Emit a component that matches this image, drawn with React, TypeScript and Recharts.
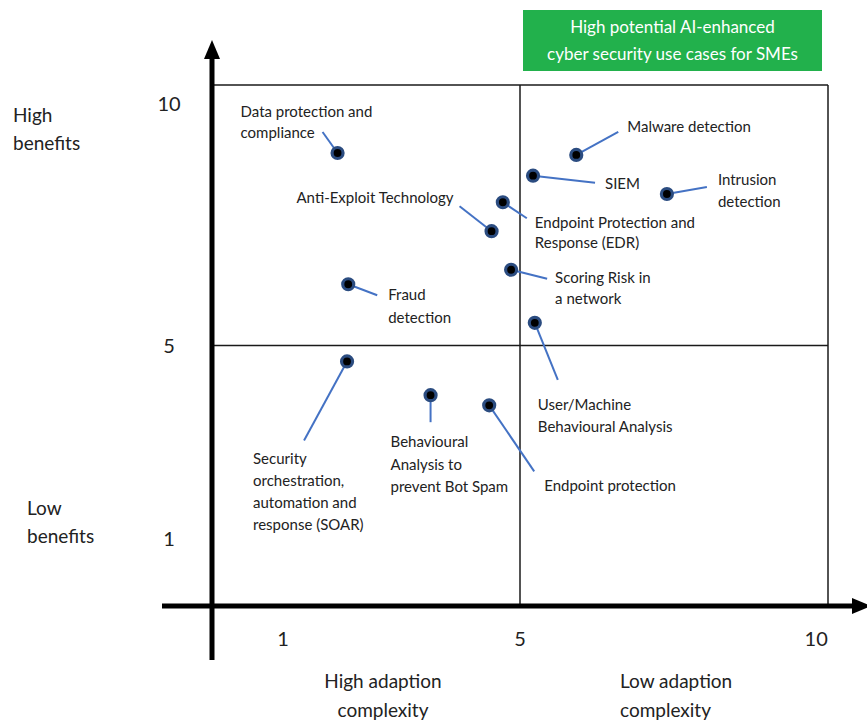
import React from 'react';
import { ScatterChart, Scatter, XAxis, YAxis, ReferenceLine } from 'recharts';

// ---------- data ----------
const useCases = [
  'Data protection and compliance',
  'Malware detection',
  'SIEM',
  'Intrusion detection',
  'Endpoint Protection and Response (EDR)',
  'Anti-Exploit Technology',
  'Scoring Risk in a network',
  'Fraud detection',
  'User/Machine Behavioural Analysis',
  'Security orchestration, automation and response (SOAR)',
  'Behavioural Analysis to prevent Bot Spam',
  'Endpoint protection',
];
const adaptionComplexity = [1.92, 5.95, 5.22, 7.48, 4.71, 4.52, 4.85, 2.1, 5.25, 2.08, 3.49, 4.48];
const benefits = [8.99, 8.95, 8.52, 8.14, 7.97, 7.37, 6.57, 6.27, 5.47, 4.67, 3.97, 3.76];
const labelLines = [
  ['Data protection and', 'compliance'],
  ['Malware detection'],
  ['SIEM'],
  ['Intrusion', 'detection'],
  ['Endpoint Protection and', 'Response (EDR)'],
  ['Anti-Exploit Technology'],
  ['Scoring Risk in', 'a network'],
  ['Fraud', 'detection'],
  ['User/Machine', 'Behavioural Analysis'],
  ['Security', 'orchestration,', 'automation and', 'response (SOAR)'],
  ['Behavioural', 'Analysis to', 'prevent Bot Spam'],
  ['Endpoint protection'],
];
const xTicks = [1, 5, 10];
const yTicks = [1, 5, 10];
const xDomain = [-0.2, 10.2];
const yDomain = [-0.4, 10.4];
const midValue = 5;
const titleLines = ['High potential AI-enhanced', 'cyber security use cases for SMEs'];

// ---------- annotation layout (pixel offsets relative to each point) ----------
const labelLayout = [
  { anchor: 'start', tx: -97, ty: -41, gap: 21, lx: -15, ly: -21 },
  { anchor: 'start', tx: 51, ty: -28, gap: 21, lx: 42, ly: -23 },
  { anchor: 'start', tx: 72, ty: 8, gap: 21, lx: 62, ly: 7 },
  { anchor: 'start', tx: 51, ty: -14, gap: 22, lx: 40, ly: -7 },
  { anchor: 'start', tx: 32, ty: 21, gap: 20, lx: 24, ly: 16 },
  { anchor: 'end', tx: -38, ty: -33, gap: 21, lx: -32, ly: -25 },
  { anchor: 'start', tx: 44, ty: 8, gap: 21, lx: 36, ly: 9 },
  { anchor: 'start', tx: 40, ty: 11, gap: 23, lx: 29, ly: 11 },
  { anchor: 'start', tx: 3, ty: 82, gap: 22, lx: 23, ly: 57 },
  { anchor: 'start', tx: -94, ty: 97, gap: 22, lx: -43, ly: 79 },
  { anchor: 'start', tx: -40, ty: 47, gap: 22.5, lx: 0, ly: 27 },
  { anchor: 'start', tx: 55, ty: 80, gap: 21, lx: 45, ly: 66 },
];

const FONT = 'Lato, "Open Sans", sans-serif';
const TEXT = '#222';

const data = useCases.map((name, i) => ({
  name,
  x: adaptionComplexity[i],
  y: benefits[i],
  lines: labelLines[i],
  idx: i,
}));

const PointMark = (props: any) => {
  const { cx, cy, payload } = props;
  if (cx == null || cy == null) return null;
  const L = labelLayout[payload.idx];
  return (
    <g>
      <line x1={cx} y1={cy} x2={cx + L.lx} y2={cy + L.ly} stroke="#4472C4" strokeWidth={2} />
      <circle cx={cx} cy={cy} r={5.5} fill="#000" stroke="#2B4C80" strokeWidth={3.2} />
      {payload.lines.map((t: string, k: number) => (
        <text
          key={k}
          x={cx + L.tx}
          y={cy + L.ty + k * L.gap}
          dy="0.35em"
          textAnchor={L.anchor}
          fontSize={15}
          fontFamily={FONT}
          fill={TEXT}
        >
          {t}
        </text>
      ))}
    </g>
  );
};

const VerticalArrow = (p: any) => {
  const x = p.x1;
  const top = Math.min(p.y1, p.y2);
  const bottom = Math.max(p.y1, p.y2);
  return (
    <g>
      <line x1={x} x2={x} y1={top - 27} y2={bottom + 54} stroke="#000" strokeWidth={5} />
      <polygon points={`${x - 8},${top - 26} ${x + 8},${top - 26} ${x},${top - 45}`} fill="#000" />
    </g>
  );
};

const HorizontalArrow = (p: any) => {
  const y = p.y1;
  const left = Math.min(p.x1, p.x2);
  const right = Math.max(p.x1, p.x2);
  return (
    <g>
      <line x1={left - 50} x2={right + 25} y1={y} y2={y} stroke="#000" strokeWidth={5} />
      <polygon points={`${right + 24},${y - 8} ${right + 24},${y + 8} ${right + 43},${y}`} fill="#000" />
    </g>
  );
};

export default function App() {
  return (
    <div
      style={{
        position: 'absolute',
        left: 0,
        top: 0,
        width: 867,
        height: 721,
        background: '#fff',
        fontFamily: FONT,
        overflow: 'hidden',
      }}
    >
      <ScatterChart width={867} height={721} margin={{ top: 85, right: 39, left: 152, bottom: 75 }}>
        <XAxis
          type="number"
          dataKey="x"
          domain={xDomain}
          allowDataOverflow
          ticks={xTicks}
          axisLine={false}
          tickLine={false}
          tickMargin={20}
          height={40}
          tick={{ fontSize: 20, fill: TEXT, fontFamily: FONT }}
        />
        <YAxis
          type="number"
          dataKey="y"
          domain={yDomain}
          allowDataOverflow
          ticks={yTicks}
          axisLine={false}
          tickLine={false}
          tickMargin={37}
          width={60}
          tick={{ fontSize: 20, fill: TEXT, fontFamily: FONT, textAnchor: 'middle' }}
        />
        <ReferenceLine y={yDomain[1]} stroke="#1a1a1a" strokeWidth={1.5} />
        <ReferenceLine x={xDomain[1]} stroke="#1a1a1a" strokeWidth={1.5} />
        <ReferenceLine x={midValue} stroke="#1a1a1a" strokeWidth={1.5} />
        <ReferenceLine y={midValue} stroke="#1a1a1a" strokeWidth={1.5} />
        <ReferenceLine x={xDomain[0]} shape={VerticalArrow} />
        <ReferenceLine y={yDomain[0]} shape={HorizontalArrow} />
        <Scatter data={data} isAnimationActive={false} shape={PointMark} />
      </ScatterChart>

      <div
        style={{
          position: 'absolute',
          left: 523,
          top: 10,
          width: 299,
          height: 61,
          background: '#22B14C',
          color: '#fff',
          fontSize: 17,
          lineHeight: '27px',
          textAlign: 'center',
          paddingTop: 3,
          boxSizing: 'border-box',
        }}
      >
        {titleLines.map((t, i) => (
          <div key={i}>{t}</div>
        ))}
      </div>

      <div style={{ position: 'absolute', left: 13, top: 101, fontSize: 19, lineHeight: '28px', color: TEXT }}>
        <div>High</div>
        <div>benefits</div>
      </div>
      <div style={{ position: 'absolute', left: 27, top: 494, fontSize: 19, lineHeight: '28px', color: TEXT }}>
        <div>Low</div>
        <div>benefits</div>
      </div>
      <div
        style={{
          position: 'absolute',
          left: 283,
          top: 666,
          width: 200,
          textAlign: 'center',
          fontSize: 19,
          lineHeight: '29px',
          color: TEXT,
        }}
      >
        <div>High adaption</div>
        <div>complexity</div>
      </div>
      <div style={{ position: 'absolute', left: 620, top: 666, fontSize: 19, lineHeight: '29px', color: TEXT }}>
        <div>Low adaption</div>
        <div>complexity</div>
      </div>
    </div>
  );
}
